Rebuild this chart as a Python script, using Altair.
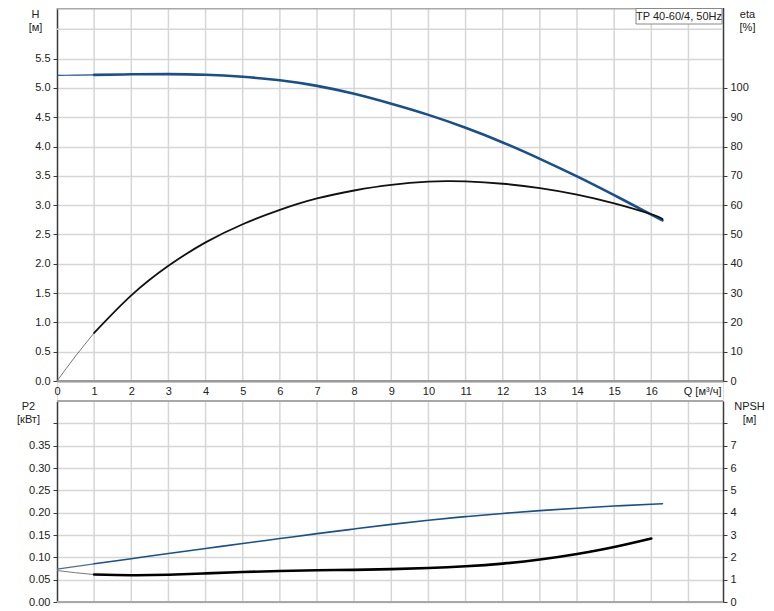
import altair as alt
import pandas as pd

# ---------------- data ----------------
header_text = ["TP 40-60/4, 50Hz"]
q_max = 17.93

q_h = [0, 0.5, 1, 2, 3, 4, 5, 6, 7, 8, 9, 10, 11, 12, 13, 14, 15, 16, 16.3]
h_m = [5.215, 5.218, 5.222, 5.232, 5.236, 5.225, 5.19, 5.13, 5.035, 4.90, 4.73, 4.54,
       4.32, 4.07, 3.79, 3.49, 3.17, 2.84, 2.74]

q_eta = [0, 0.5, 1, 2, 3, 4, 5, 6, 7, 8, 9, 10, 10.5, 11, 12, 13, 14, 15, 16, 16.3]
eta_pct = [0, 8.5, 16.4, 29.2, 39.3, 47.3, 53.5, 58.4, 62.3, 65.0, 66.9, 68.0, 68.2,
           68.1, 67.3, 65.8, 63.6, 60.6, 56.9, 55.3]

q_p2 = [0, 1, 2, 3, 4, 5, 6, 7, 8, 9, 10, 11, 12, 13, 14, 15, 16, 16.3]
p2_kw = [0.0737, 0.0855, 0.0970, 0.1085, 0.1197, 0.1310, 0.1420, 0.1530, 0.1635,
         0.1737, 0.1830, 0.1912, 0.1983, 0.2045, 0.2100, 0.2148, 0.2188, 0.2200]

q_npsh = [0, 0.5, 1, 2, 3, 4, 5, 6, 7, 8, 9, 10, 11, 12, 13, 14, 15, 16]
npsh_m = [1.41, 1.31, 1.23, 1.20, 1.22, 1.28, 1.34, 1.39, 1.42, 1.44, 1.47, 1.52,
          1.60, 1.72, 1.90, 2.15, 2.46, 2.84]

q_ticks = [0, 1, 2, 3, 4, 5, 6, 7, 8, 9, 10, 11, 12, 13, 14, 15, 16]
q_grid = [1, 2, 3, 4, 5, 6, 7, 8, 9, 10, 11, 12, 13, 14, 15, 16, 17]
h_ticks = [0.0, 0.5, 1.0, 1.5, 2.0, 2.5, 3.0, 3.5, 4.0, 4.5, 5.0, 5.5]
h_extra_grid = [6.0]
eta_ticks = [0, 10, 20, 30, 40, 50, 60, 70, 80, 90, 100]
p2_ticks = [0.00, 0.05, 0.10, 0.15, 0.20, 0.25, 0.30, 0.35, 0.40]
npsh_ticks = [0, 1, 2, 3, 4, 5, 6, 7, 8]

# ---------------- styling / layout ----------------
PW = 666
TOP_B, TOP_T = 373, -8
BOT_B, BOT_T = 594, 393
GRID = "#d6d6d6"
TXT = "#222222"
BLUE = "#17508c"
AXIS_DARK = "#3a3a3a"
FRAME = "#a8a8a8"
FONT = "Liberation Sans"
INTERP = "natural"

xs = alt.Scale(domain=[0, q_max], nice=False, zero=False)

x_axis = alt.Axis(values=q_ticks, format="d", grid=False, ticks=False,
                  domainColor="#9a9a9a", domainWidth=2, offset=-(BOT_B - TOP_B),
                  labelPadding=4, labelFontSize=11, labelColor=TXT, labelFlush=False,
                  title="Q [м³/ч]", titleX=664, titleY=4, titleAlign="right",
                  titleBaseline="top", titleAngle=0, titleFontWeight="normal",
                  titleFontSize=11, titleColor=TXT)


def xenc():
    return alt.X("Q:Q", scale=xs, axis=x_axis)


def yaxis(orient, values, title, tx, ty, grid, label_expr=None, fmt=None):
    kw = dict(orient=orient, values=values, grid=grid, gridColor=GRID, gridWidth=1.5,
              tickSize=4, tickColor=AXIS_DARK, domainColor=AXIS_DARK, domainWidth=1.5,
              labelPadding=3, labelFontSize=11, labelColor=TXT,
              title=title, titleX=tx, titleY=ty, titleAngle=0, titleAlign="center",
              titleBaseline="top", titleFontWeight="normal", titleFontSize=11,
              titleColor=TXT, titleLineHeight=13)
    if label_expr:
        kw["labelExpr"] = label_expr
    if fmt:
        kw["format"] = fmt
    return alt.Axis(**kw)


h_scale = alt.Scale(domain=[0, 6.5], range=[TOP_B, TOP_T], nice=False, zero=False)
eta_scale = alt.Scale(domain=[0, 130], range=[TOP_B, TOP_T], nice=False, zero=False)
p2_scale = alt.Scale(domain=[0, 0.45], range=[BOT_B, BOT_T], nice=False, zero=False)
npsh_scale = alt.Scale(domain=[0, 9], range=[BOT_B, BOT_T], nice=False, zero=False)

h_axis = yaxis("left", h_ticks, ["H", "[м]"], -22, 0, True, fmt=".1f")
eta_axis = yaxis("right", eta_ticks, ["eta", "[%]"], 24, 0, False, fmt="d")
p2_axis = yaxis("left", p2_ticks, ["P2", "[кВт]"], -29, 392, True,
                label_expr="datum.value > 0.375 ? '' : format(datum.value, '.2f')")
npsh_axis = yaxis("right", npsh_ticks, ["NPSH", "[м]"], 26, 392, False,
                  label_expr="datum.value > 7.5 ? '' : format(datum.value, 'd')")


def curve(q, v, name, scale, axis, color_thin, color_thick, w_thin, w_thick):
    df = pd.DataFrame({"Q": q, name: v})
    y = alt.Y(f"{name}:Q", scale=scale, axis=axis)
    thin = alt.Chart(df[df["Q"] <= 1]).mark_line(
        color=color_thin, strokeWidth=w_thin, interpolate=INTERP
    ).encode(x=xenc(), y=y)
    thick = alt.Chart(df[df["Q"] >= 1]).mark_line(
        color=color_thick, strokeWidth=w_thick, interpolate=INTERP, strokeCap="round"
    ).encode(x=xenc(), y=y)
    return thin, thick


grid_df = pd.DataFrame({"Q": q_grid})
xgrid_top = alt.Chart(grid_df).mark_rule(color=GRID, strokeWidth=1.5).encode(
    x=xenc(), y=alt.value(0), y2=alt.value(TOP_B))
xgrid_bot = alt.Chart(grid_df).mark_rule(color=GRID, strokeWidth=1.5).encode(
    x=xenc(), y=alt.value(BOT_T), y2=alt.value(BOT_B))

dummy = pd.DataFrame({"d": [0]})
frame_top = alt.Chart(dummy).mark_rule(color=FRAME, strokeWidth=1.5).encode(
    x=alt.value(0), x2=alt.value(PW), y=alt.value(0.75))
frame_b1 = alt.Chart(dummy).mark_rule(color=FRAME, strokeWidth=2).encode(
    x=alt.value(0), x2=alt.value(PW), y=alt.value(BOT_T))
frame_b2 = alt.Chart(dummy).mark_rule(color=FRAME, strokeWidth=2).encode(
    x=alt.value(0), x2=alt.value(PW), y=alt.value(BOT_B))
frame_mid = alt.Chart(dummy).mark_rule(color="#9a9a9a", strokeWidth=2).encode(
    x=alt.value(0), x2=alt.value(PW), y=alt.value(TOP_B))

h_grid6 = alt.Chart(pd.DataFrame({"H": h_extra_grid})).mark_rule(
    color=GRID, strokeWidth=1.5).encode(
    y=alt.Y("H:Q", scale=h_scale, axis=h_axis), x=alt.value(0), x2=alt.value(PW))
h_thin, h_thick = curve(q_h, h_m, "H", h_scale, h_axis, BLUE, BLUE, 1.2, 2.6)
top_h = alt.layer(h_grid6, h_thin, h_thick)

e_thin, e_thick = curve(q_eta, eta_pct, "eta", eta_scale, eta_axis, "#777777", "#111111", 1.0, 1.8)
top_eta = alt.layer(e_thin, e_thick)

p_thin, p_thick = curve(q_p2, p2_kw, "P2", p2_scale, p2_axis, "#4d6f96", BLUE, 1.2, 1.6)
bot_p2 = alt.layer(p_thin, p_thick)

n_thin, n_thick = curve(q_npsh, npsh_m, "NPSH", npsh_scale, npsh_axis, "#777777", "#000000", 1.0, 2.6)
bot_npsh = alt.layer(n_thin, n_thick)

box = alt.Chart(dummy).mark_rect(fill="white", stroke="#888888", strokeWidth=1).encode(
    x=alt.value(579), x2=alt.value(665), y=alt.value(0.5), y2=alt.value(16))
box_text = alt.Chart(pd.DataFrame({"t": header_text})).mark_text(
    fontSize=11, color=TXT, align="center", baseline="middle", font=FONT).encode(
    text="t:N", x=alt.value(622), y=alt.value(8.5))

chart = alt.layer(
    xgrid_top, xgrid_bot, frame_top, frame_b1, frame_b2, frame_mid,
    top_h, top_eta, bot_p2, bot_npsh, box, box_text
).resolve_scale(y="independent").properties(
    width=PW, height=BOT_B,
    autosize=alt.AutoSizeParams(type="none"),
    padding={"left": 49, "top": 0, "right": 43, "bottom": 9},
).configure_view(stroke=None).configure_axis(
    labelFont=FONT, titleFont=FONT
).configure(font=FONT, background="white")

chart.save("out.html", embed_options={"renderer": "svg", "actions": False})
